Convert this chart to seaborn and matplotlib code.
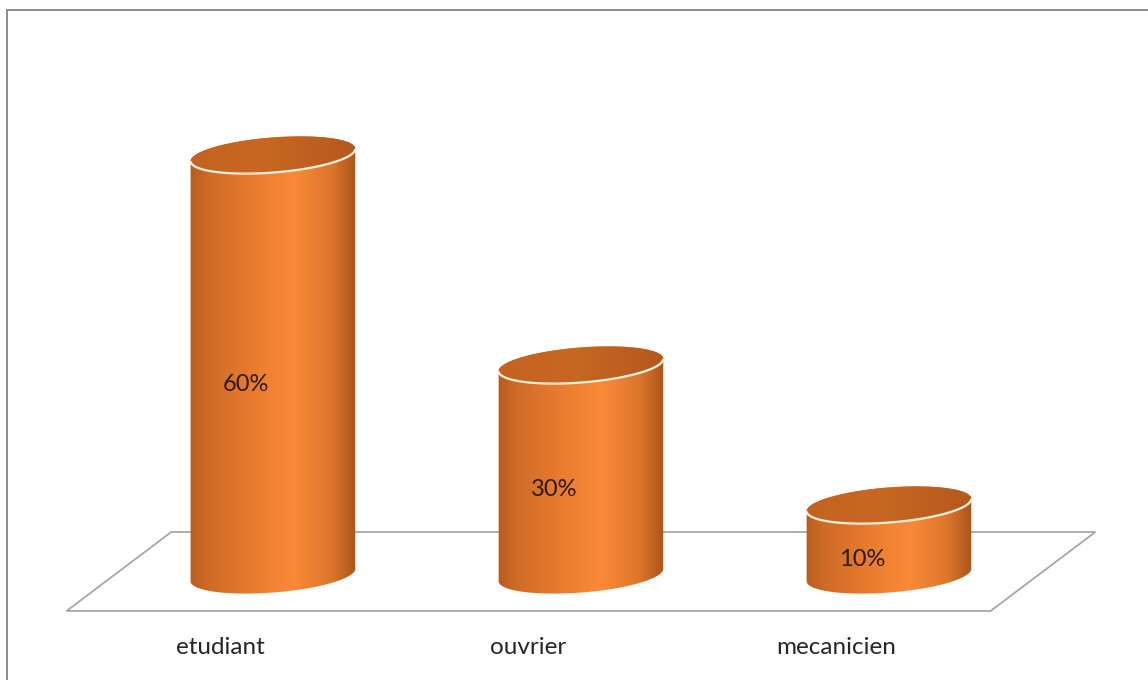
import numpy as np
import pandas as pd
import matplotlib
matplotlib.use('Agg')
import matplotlib.pyplot as plt
import seaborn as sns
from matplotlib.path import Path
from matplotlib.patches import PathPatch, Polygon, Rectangle
from matplotlib.colors import LinearSegmentedColormap

# Data
categories = ['etudiant', 'ouvrier', 'mecanicien']
values = [60, 30, 10]
value_labels = ['60%', '30%', '10%']

df = pd.DataFrame({'metier': categories, 'pct': values})

sns.set_theme(style='white')
plt.rcParams['font.family'] = ['Lato', 'DejaVu Sans']

fig = plt.figure(figsize=(11.48, 6.8), dpi=100)
ax = fig.add_axes([0, 0, 1, 1])

bar_w = 0.536
sns.barplot(data=df, x='metier', y='pct', width=bar_w, color='#F58634',
            saturation=1, ax=ax)
ax.set_xlim(-0.886, 2.841)
ax.set_ylim(-15.0, 82.14)
ax.axis('off')

# pixel scale of one data unit
o = ax.transData.transform((0, 0))
sx = ax.transData.transform((1, 0))[0] - o[0]
sy = ax.transData.transform((0, 1))[1] - o[1]

# floor of the 3D plot
skew = 0.17
floor_back, floor_front = 6.14, -5.14
floor = Polygon([(-0.5 + skew, floor_back), (2.5 + skew, floor_back),
                 (2.5 - skew, floor_front), (-0.5 - skew, floor_front)],
                closed=True, facecolor='white', edgecolor='#A6A6A6', lw=1.3, zorder=1)
ax.add_patch(floor)

body_cmap = LinearSegmentedColormap.from_list('body', [
    (0.0, '#B45A1D'), (0.12, '#CE6B26'), (0.40, '#EA7D30'),
    (0.62, '#FA8A37'), (0.84, '#DC762C'), (1.0, '#A65119')])
top_cmap = LinearSegmentedColormap.from_list('top', [
    (0.0, '#C3631F'), (0.45, '#C76723'), (1.0, '#B4581C')])

th = np.deg2rad(4.5)
b_px = 17.5
grad = np.linspace(0, 1, 256)[None, :]


def ell(xc, yc, a, b, t):
    dx = a * np.cos(t) * np.cos(th) - b * np.sin(t) * np.sin(th)
    dy = a * np.cos(t) * np.sin(th) + b * np.sin(t) * np.cos(th)
    return xc + dx / sx, yc + dy / sy


for i, p in enumerate(ax.patches[:len(values)]):
    x0, w, h = p.get_x(), p.get_width(), p.get_height()
    p.set_visible(False)
    xc = x0 + w / 2
    a_px = w * sx / 2
    t0 = np.arctan2(-b_px * np.sin(th), a_px * np.cos(th))

    # body: lower arc of bottom ellipse + upper arc of top ellipse
    tb = np.linspace(t0 + np.pi, t0 + 2 * np.pi, 120)
    bx, by = ell(xc, 0, a_px, b_px, tb)
    tt = np.linspace(t0, t0 + np.pi, 120)
    tx, ty = ell(xc, h, a_px, b_px, tt)
    verts = np.column_stack([np.r_[bx, tx], np.r_[by, ty]])
    body = PathPatch(Path(np.vstack([verts, verts[:1]]), closed=True),
                     facecolor='none', edgecolor='none', transform=ax.transData)
    ax.add_patch(body)
    im = ax.imshow(grad, cmap=body_cmap, aspect='auto', interpolation='bicubic',
                   extent=[x0 - 0.01, x0 + w + 0.01, -5, h + 5], zorder=3)
    im.set_clip_path(body)

    # top face
    ta = np.linspace(0, 2 * np.pi, 240)
    ex, ey = ell(xc, h, a_px, b_px, ta)
    top = PathPatch(Path(np.column_stack([ex, ey]), closed=True),
                    facecolor='none', edgecolor='none', transform=ax.transData)
    ax.add_patch(top)
    im2 = ax.imshow(grad, cmap=top_cmap, aspect='auto', interpolation='bicubic',
                    extent=[x0 - 0.01, x0 + w + 0.01, h - 5, h + 5], zorder=4)
    im2.set_clip_path(top)

    # light rim on the front edge of the top
    rx, ry = ell(xc, h, a_px, b_px, np.linspace(t0 + np.pi + 0.05, t0 + 2 * np.pi - 0.05, 120))
    ax.plot(rx, ry, color='#FFF1DC', lw=1.6, solid_capstyle='round', zorder=5)

    # value label
    ax.annotate(value_labels[i], (xc, values[i] / 2), xytext=(-27, -20),
                textcoords='offset pixels', ha='center', va='center',
                fontsize=17, color='#2A1A10', zorder=6)

# category labels along the front edge of the floor
for i, c in enumerate(categories):
    ax.text(i - skew, -10.3, c, ha='center', va='center', fontsize=17.5,
            color='#262626', zorder=6)

ax.set_xlim(-0.886, 2.841)
ax.set_ylim(-15.0, 82.14)

# chart area border
fig.add_artist(Rectangle((6.5 / 1148, -0.1), 2, (680 - 10.5) / 680 + 0.1,
                         transform=fig.transFigure, fill=False,
                         edgecolor='#8C8C8C', lw=1.4))

fig.savefig('out.png', dpi=100, facecolor='white')
